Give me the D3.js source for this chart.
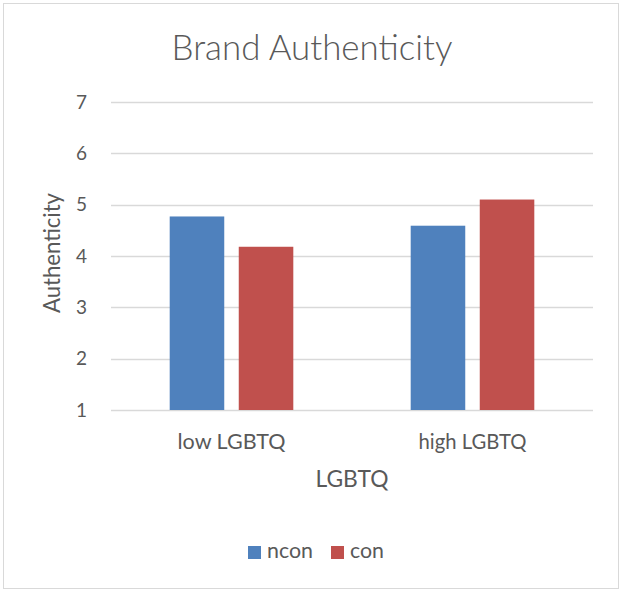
<!DOCTYPE html>
<html>
<head>
<meta charset="utf-8">
<script src="https://cdn.jsdelivr.net/npm/d3@7"></script>
<style>
  html, body { margin: 0; padding: 0; background: #fff; }
  svg text { font-family: Lato, "Open Sans", sans-serif; fill: #595959; }
</style>
</head>
<body>
<svg id="chart" width="621" height="590"></svg>
<script>
// Chart data
const categories = ["low LGBTQ", "high LGBTQ"];
const seriesNames = ["ncon", "con"];
const ncon = [4.77, 4.59];
const con = [4.18, 5.10];
const yTicks = [1, 2, 3, 4, 5, 6, 7];
const titleText = "Brand Authenticity";
const xTitle = "LGBTQ";
const yTitle = "Authenticity";
const colors = ["#4F81BD", "#C0504D"];

const svg = d3.select("#chart");
const W = 621, H = 590;
const margin = { left: 111, right: 28, top: 102, bottom: 180 };

// shrink or grow a text node's font so that it spans the given width
function fitWidth(sel, width) {
  const node = sel.node();
  const fs = parseFloat(sel.attr("font-size"));
  const w = node.getComputedTextLength();
  if (w > 0) sel.attr("font-size", (fs * width / w).toFixed(2));
  return sel;
}

// outer chart frame
svg.append("rect")
  .attr("x", 3.5).attr("y", 3.5)
  .attr("width", W - 6).attr("height", H - 5)
  .attr("fill", "#fff").attr("stroke", "#d9d9d9").attr("stroke-width", 1);

const x0 = d3.scaleBand().domain(categories)
  .range([margin.left, W - margin.right]).paddingInner(0).paddingOuter(0);
const x1 = d3.scaleBand().domain(seriesNames)
  .range([0, x0.bandwidth()]).paddingInner(0.21).paddingOuter(0.85);
const y = d3.scaleLinear().domain([1, 7]).range([H - margin.bottom, margin.top]);

// horizontal gridlines
svg.append("g").selectAll("line").data(yTicks).join("line")
  .attr("x1", margin.left).attr("x2", W - margin.right)
  .attr("y1", d => Math.round(y(d)) + 0.5).attr("y2", d => Math.round(y(d)) + 0.5)
  .attr("stroke", "#d9d9d9").attr("stroke-width", 1.3);

// y tick labels
const yAxis = d3.axisLeft(y).tickValues(yTicks).tickSize(0).tickPadding(24).tickFormat(d3.format("d"));
const gy = svg.append("g").attr("transform", `translate(${margin.left},0)`).call(yAxis);
gy.select(".domain").remove();
gy.selectAll("text").attr("font-size", 19).style("fill", "#595959")
  .style("font-family", 'Lato, sans-serif');

// bars
const rows = categories.map((c, i) => ({ cat: c, vals: [ncon[i], con[i]] }));
const groups = svg.append("g").selectAll("g").data(rows).join("g")
  .attr("transform", d => `translate(${x0(d.cat)},0)`);
groups.selectAll("rect").data(d => d.vals.map((v, j) => ({ key: seriesNames[j], v, j })))
  .join("rect")
  .attr("x", d => x1(d.key))
  .attr("width", x1.bandwidth())
  .attr("y", d => y(d.v))
  .attr("height", d => y(1) - y(d.v))
  .attr("fill", d => colors[d.j]);

// x category labels
const xAxis = d3.axisBottom(x0).tickSize(0).tickPadding(0);
const gx = svg.append("g").attr("transform", `translate(0,${y(1)})`).call(xAxis);
gx.select(".domain").remove();
gx.selectAll("text").attr("font-size", 20).attr("dy", null).attr("y", 39)
  .style("fill", "#595959").style("font-family", 'Lato, sans-serif')
  .each(function() { fitWidth(d3.select(this), 108); });

// title
fitWidth(svg.append("text").attr("x", 312).attr("y", 60).attr("text-anchor", "middle")
  .attr("font-size", 32).style("font-weight", 300).text(titleText), 281);

// axis titles
fitWidth(svg.append("text").attr("x", 352).attr("y", 487).attr("text-anchor", "middle")
  .attr("font-size", 20).text(xTitle), 73);
fitWidth(svg.append("text").attr("transform", "translate(60,253) rotate(-90)")
  .attr("text-anchor", "middle").attr("font-size", 20).text(yTitle), 120);

// legend
const legend = svg.append("g").attr("transform", "translate(248,552)");
const lx = [0, 83];
const lw = [46, 34];
seriesNames.forEach((s, i) => {
  const g = legend.append("g").attr("transform", `translate(${lx[i]},0)`);
  g.append("rect").attr("x", 0).attr("y", -6).attr("width", 13).attr("height", 13).attr("fill", colors[i]);
  fitWidth(g.append("text").attr("x", 19).attr("y", 6).attr("font-size", 20).text(s), lw[i]);
});
</script>
</body>
</html>
